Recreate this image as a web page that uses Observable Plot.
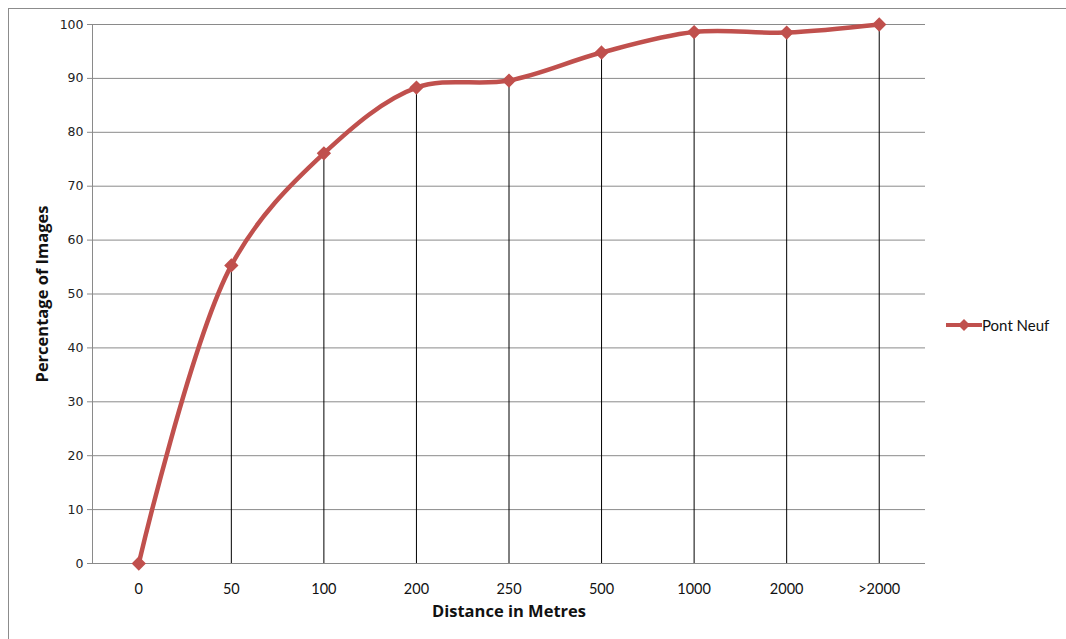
<!DOCTYPE html>
<html>
<head>
<meta charset="utf-8">
<script src="https://cdn.jsdelivr.net/npm/d3@7"></script>
<script src="https://cdn.jsdelivr.net/npm/@observablehq/plot@0.6"></script>
<style>
  html, body { margin: 0; padding: 0; background: #fff; }
  #wrap { position: relative; width: 1066px; height: 639px; overflow: hidden; }
  #frame { position: absolute; left: 8px; top: 8px; width: 1070px; height: 640px; border: 1px solid #8c8c8c; box-sizing: border-box; pointer-events: none; }
  #legend { position: absolute; left: 946px; top: 316px; font: 15px Lato, "Open Sans", sans-serif; color: #111; display: flex; align-items: center; }
  #legend svg { margin-right: 0px; }
</style>
</head>
<body>
<div id="wrap">
  <div id="chart"></div>
  <div id="frame"></div>
  <div id="legend"></div>
</div>
<script>
const categories = ["0", "50", "100", "200", "250", "500", "1000", "2000", ">2000"];
const values = [0, 55.3, 76.1, 88.3, 89.6, 94.8, 98.6, 98.5, 100];
const yTicks = [0, 10, 20, 30, 40, 50, 60, 70, 80, 90, 100];
const seriesName = "Pont Neuf";

const data = categories.map((c, i) => ({ cat: c, v: values[i] }));
const red = "#c0504d";

const chart = Plot.plot({
  width: 1066,
  height: 639,
  marginLeft: 92,
  marginRight: 141,
  marginTop: 24,
  marginBottom: 76,
  style: { fontFamily: "Lato, 'Open Sans', sans-serif", fontSize: "13px", color: "#111", background: "transparent" },
  x: { type: "point", domain: categories, padding: 0.5, round: false },
  y: { domain: [0, 100] },
  marks: [
    Plot.ruleY(yTicks, { stroke: "#8a8a8a", strokeWidth: 1 }),
    Plot.frame({ anchor: "left", stroke: "#8a8a8a" }),
    Plot.axisY({ ticks: yTicks, tickSize: 5, tickPadding: 4, stroke: "#8a8a8a", fontSize: 12.5, fontFamily: "'DejaVu Sans', Verdana, sans-serif", label: null, color: "#222" }),
    Plot.axisX({ tickSize: 0, tickPadding: 20, fontSize: 14.5, label: null }),
    Plot.ruleX(data.filter(d => d.v > 0), { x: "cat", y1: 0, y2: "v", stroke: "#000", strokeWidth: 1 }),
    Plot.line(data, { x: "cat", y: "v", stroke: red, strokeWidth: 4.5, curve: "catmull-rom" }),
    Plot.dot(data, { x: "cat", y: "v", symbol: "diamond2", r: 5.5, fill: red, stroke: red }),
    Plot.text(["Distance in Metres"], { frameAnchor: "bottom", dy: 53, fontSize: 16.5, fontWeight: "bold", fontFamily: "'Open Sans', Lato, sans-serif", fill: "#111" }),
    Plot.text(["Percentage of Images"], { frameAnchor: "left", dx: -50, rotate: -90, textAnchor: "middle", fontSize: 16.5, fontWeight: "bold", fontFamily: "'Open Sans', Lato, sans-serif", fill: "#111" })
  ]
});

document.getElementById("chart").appendChild(chart);

// legend
const leg = d3.select("#legend");
const ls = leg.append("svg").attr("width", 36).attr("height", 14);
ls.append("line").attr("x1", 0).attr("x2", 36).attr("y1", 7).attr("y2", 7).attr("stroke", red).attr("stroke-width", 4);
ls.append("path").attr("d", "M18,1 L24,7 L18,13 L12,7 Z").attr("fill", red);
leg.append("span").text(seriesName);
</script>
</body>
</html>
